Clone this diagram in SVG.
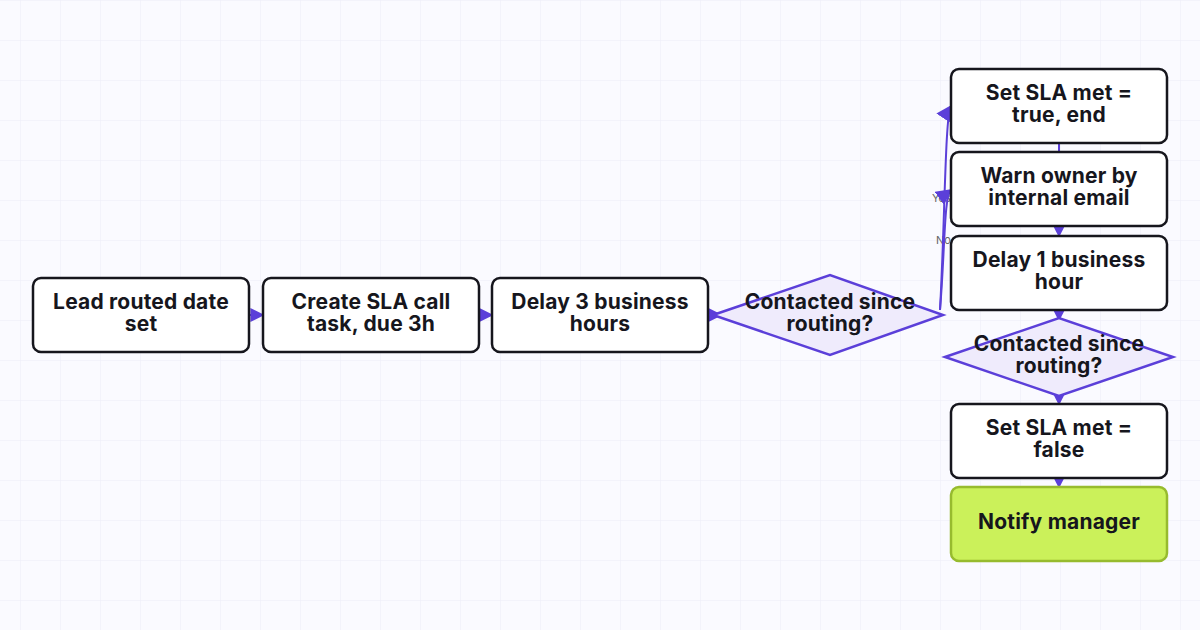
<svg xmlns="http://www.w3.org/2000/svg" width="1200" height="630" viewBox="0 0 1200 630">
<defs>
<pattern id="grid" width="40" height="40" patternUnits="userSpaceOnUse" x="20" y="0">
<path d="M40 0H0V40" fill="none" stroke="#ecebf7" stroke-width="1"/>
</pattern>
<marker id="ah" viewBox="0 0 10 10" refX="9" refY="5" markerWidth="14" markerHeight="14" markerUnits="userSpaceOnUse" orient="auto"><path d="M0 0L10 5L0 10z" fill="#5b3fd9"/></marker>
<marker id="ahb" viewBox="0 0 10 10" refX="9" refY="5" markerWidth="16" markerHeight="16" markerUnits="userSpaceOnUse" orient="auto"><path d="M0 0L10 5L0 10z" fill="#5b3fd9"/></marker>
</defs>
<style>
.box{fill:#fff;stroke:#16161d;stroke-width:2.5}
.dia{fill:#efebfc;stroke:#5b3fd9;stroke-width:2.5}
.green{fill:#cbf15a;stroke:#97bb2e;stroke-width:2.5}
.t{font-family:Inter,"Noto Sans",sans-serif;font-weight:700;font-size:21px;letter-spacing:0.2px;fill:#16161d;text-anchor:middle}
.e{fill:none;stroke:#5b3fd9;stroke-width:2}
.lbl{font-family:Inter,sans-serif;font-size:11px;fill:#666}
</style>
<rect width="1200" height="630" fill="#fafaff"/>
<rect width="1200" height="630" fill="url(#grid)"/>
<g id="connectors">
<path class="e" d="M249 315H263" marker-end="url(#ah)"/>
<path class="e" d="M479 315H492" marker-end="url(#ah)"/>
<path class="e" d="M708 315H721" marker-end="url(#ah)"/>
<text class="lbl" x="932" y="202">Yes</text>
<text class="lbl" x="936" y="244">No</text>
<path class="e" d="M940 310C945 220 945 115 951 106" marker-end="url(#ahb)"/>
<path class="e" d="M940 310C945 250 944 195 951 190" marker-end="url(#ahb)"/>
<path class="e" d="M1059 143V152"/>
<path class="e" d="M1059 226V236" marker-end="url(#ah)"/>
<path class="e" d="M1059 310V320" marker-end="url(#ah)"/>
<path class="e" d="M1059 396V404" marker-end="url(#ah)"/>
<path class="e" d="M1059 478V487" marker-end="url(#ah)"/>
</g>
<g id="n1"><rect class="box" x="33" y="278" width="216" height="74" rx="8"/><text class="t" x="141" y="309">Lead routed date</text><text class="t" x="141" y="331">set</text></g>
<g id="n2"><rect class="box" x="263" y="278" width="216" height="74" rx="8"/><text class="t" x="371" y="309">Create SLA call</text><text class="t" x="371" y="331">task, due 3h</text></g>
<g id="n3"><rect class="box" x="492" y="278" width="216" height="74" rx="8"/><text class="t" x="600" y="309">Delay 3 business</text><text class="t" x="600" y="331">hours</text></g>
<g id="d1"><polygon class="dia" points="713,315 830,275 943,315 830,355"/><text class="t" x="830" y="309">Contacted since</text><text class="t" x="830" y="331">routing?</text></g>
<g id="n4"><rect class="box" x="951" y="69" width="216" height="74" rx="8"/><text class="t" x="1059" y="100">Set SLA met =</text><text class="t" x="1059" y="122">true, end</text></g>
<g id="n5"><rect class="box" x="951" y="152" width="216" height="74" rx="8"/><text class="t" x="1059" y="183">Warn owner by</text><text class="t" x="1059" y="205">internal email</text></g>
<g id="n6"><rect class="box" x="951" y="236" width="216" height="74" rx="8"/><text class="t" x="1059" y="267">Delay 1 business</text><text class="t" x="1059" y="289">hour</text></g>
<g id="d2"><polygon class="dia" points="945,357 1059,318 1173,357 1059,396"/><text class="t" x="1059" y="351">Contacted since</text><text class="t" x="1059" y="373">routing?</text></g>
<g id="n7"><rect class="box" x="951" y="404" width="216" height="74" rx="8"/><text class="t" x="1059" y="435">Set SLA met =</text><text class="t" x="1059" y="457">false</text></g>
<g id="n8"><rect class="green" x="951" y="487" width="216" height="74" rx="8"/><text class="t" x="1059" y="529">Notify manager</text></g>
</svg>
